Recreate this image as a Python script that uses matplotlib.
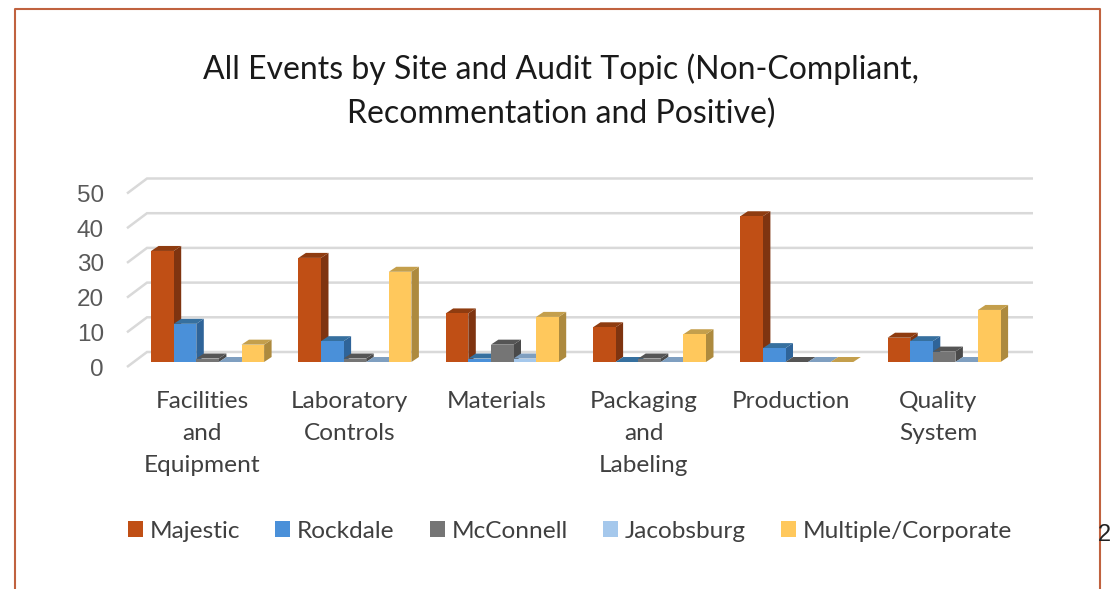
import matplotlib
matplotlib.use("Agg")
import matplotlib.pyplot as plt
from matplotlib.patches import Polygon, Rectangle, Patch
from matplotlib.lines import Line2D

categories = ["Facilities\nand\nEquipment", "Laboratory\nControls", "Materials",
              "Packaging\nand\nLabeling", "Production", "Quality\nSystem"]
majestic = [32, 30, 14, 10, 42, 7]
rockdale = [11, 6, 1, 0, 4, 6]
mcconnell = [1, 1, 5, 1, 0, 3]
jacobsburg = [0, 0, 1, 0, 0, 0]
multiple = [5, 26, 13, 8, 0, 15]
series_names = ["Majestic", "Rockdale", "McConnell", "Jacobsburg", "Multiple/Corporate"]
y_ticks = [0, 10, 20, 30, 40, 50]

series = [majestic, rockdale, mcconnell, jacobsburg, multiple]
front = ["#C04F15", "#4A90D9", "#757575", "#A5C8EC", "#FFC85C"]
side = ["#7F3410", "#2F6499", "#4A4A4A", "#7596B8", "#AD8A3E"]
top = ["#8F3C10", "#36709F", "#555555", "#7F9FC0", "#C49F4C"]

W, H = 1111, 589
PX_X = 147.3            # pixels per category
PX_Y = 3.47             # pixels per value unit
X0, Y0 = 207.6, 362     # pixel of category 0 centre and of value 0 at the bars' front
L, R, B, T = 127, 1033, 367, 178.5

fig = plt.figure(figsize=(W / 100, H / 100), dpi=100, facecolor="white")
ax = fig.add_axes([L / W, 1 - B / H, (R - L) / W, (B - T) / H])
ax.set_xlim((L - X0) / PX_X, (R - X0) / PX_X)
ax.set_ylim((Y0 - B) / PX_Y, (Y0 - T) / PX_Y)
for s in ax.spines.values():
    s.set_visible(False)

# depth of the fake 3-D
bar_w = 22.6 / PX_X
ddx, ddy = 7.5 / PX_X, 5 / PX_Y
floor_front = (Y0 - B) / PX_Y
floor_back = (Y0 - 352) / PX_Y
xl = ax.get_xlim()
back_x = xl[0] + 20 / PX_X

# gridlines: short slanted wall part, then the long back line
for v in y_ticks:
    ax.plot([xl[0], back_x, xl[1]],
            [floor_front + v, floor_back + v, floor_back + v],
            color="#D9D9D9", lw=1.8, solid_capstyle="butt", solid_joinstyle="miter",
            clip_on=False, zorder=1)

z = 2
for i in range(len(categories)):
    for k, vals in enumerate(series):
        x0 = i + (k - 2.5) * bar_w
        x1 = x0 + bar_w
        v = vals[i]
        ax.add_patch(Polygon([(x1, 0), (x1 + ddx, ddy), (x1 + ddx, v + ddy), (x1, v)],
                             closed=True, fc=side[k], ec="none", zorder=z))
        ax.add_patch(Polygon([(x0, v), (x0 + ddx, v + ddy), (x1 + ddx, v + ddy), (x1, v)],
                             closed=True, fc=top[k], ec="none", zorder=z))
        ax.add_patch(Rectangle((x0, 0), bar_w, v, fc=front[k], ec="none", zorder=z))
        z += 1

ax.set_yticks([v + floor_front for v in y_ticks])
ax.set_yticklabels([str(v) for v in y_ticks], family="Liberation Sans", fontsize=17.5, color="#595959")
ax.tick_params(axis="y", length=0, pad=16.5)

ax.set_xticks([i - 0.038 for i in range(len(categories))])
ax.set_xticklabels(categories, family="Lato", fontsize=17.6, color="#404040", linespacing=1.65)
ax.tick_params(axis="x", length=0, pad=17.5)

fig.text(561 / W, 1 - 91.5 / H, "All Events by Site and Audit Topic (Non-Compliant,\nRecommentation and Positive)",
         ha="center", va="center", family="Lato", fontsize=23, color="#1A1A1A", linespacing=1.55)

handles = [Patch(fc=c, ec="none") for c in front]
fig.legend(handles, series_names, ncol=5, loc="center left", bbox_to_anchor=(128 / W, 1 - 531 / H),
           frameon=False, prop={"family": "Lato", "size": 17.6}, labelcolor="#404040",
           borderaxespad=0, borderpad=0,
           handlelength=0.61, handleheight=0.61, handletextpad=0.26, columnspacing=1.46)

# page decorations
edge = "#C0623F"
fig.add_artist(Line2D([14.5 / W, 14.5 / W, 1100 / W, 1100 / W],
                      [0, 1 - 8.5 / H, 1 - 8.5 / H, 0], color=edge, lw=1.5))
fig.text(1104 / W, 1 - 535 / H, "2", ha="center", va="center", family="Liberation Sans",
         fontsize=17, color="#222222")

fig.savefig("out.png", dpi=100)
